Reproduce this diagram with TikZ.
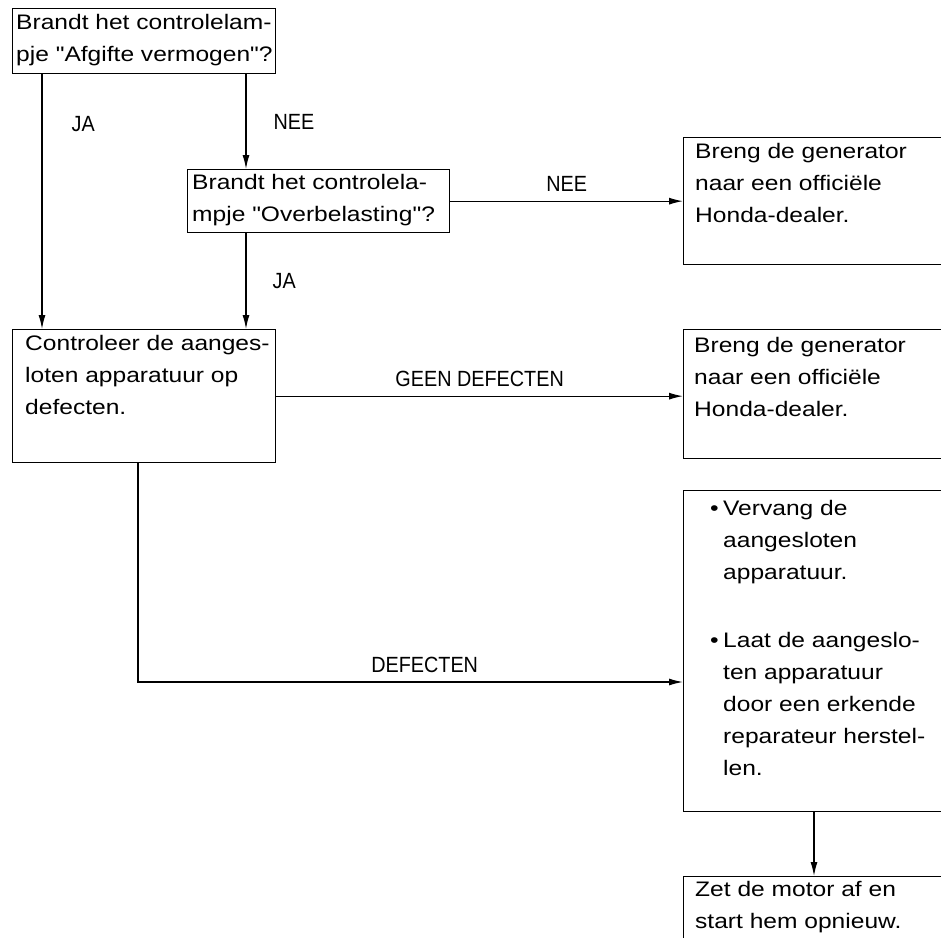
\documentclass[tikz,border=0pt]{standalone}
\usepackage{fontspec}
\setmainfont{Liberation Sans}
\newfontfamily\boxfont{Liberation Sans}[FakeStretch=1.17]
\newfontfamily\lblfont{Liberation Sans}[FakeStretch=0.9]
\usetikzlibrary{arrows.meta,positioning}

\tikzset{
  box/.style={draw, line width=1.3pt, anchor=north west, inner sep=0pt},
  boxtext/.style={anchor=north west, align=left, inner sep=0pt,
    font=\boxfont\fontsize{21}{32}\selectfont},
  arr/.style={line width=1.3pt, -{Latex[length=14pt,width=7pt]}},
  lbl/.style={font=\lblfont\fontsize{22}{26}\selectfont, inner sep=0pt},
}
\newcommand{\bul}{\makebox[13pt][l]{\textbullet}}
\newcommand{\ind}{\hspace*{13pt}}

\begin{document}
\begin{tikzpicture}[x=1pt,y=-1pt]
    \useasboundingbox (0,0) rectangle (941,937);
    \clip (0,0) rectangle (941,937);

    % questions
    \node[box, minimum width=263, minimum height=65,
      label={[boxtext, xshift=4, yshift=-5.7]north west:{Brandt het controlelam-\\pje "Afgifte vermogen"?}}]
      (lamp1) at (12,8) {};
    \node[box, minimum width=262, minimum height=63,
      label={[boxtext, xshift=5, yshift=-4.7]north west:{Brandt het controlela-\\mpje "Overbelasting"?}}]
      (lamp2) at (187,169) {};
    \node[box, minimum width=263, minimum height=133,
      label={[boxtext, xshift=13, yshift=-5.7]north west:{Controleer de aanges-\\loten apparatuur op\\defecten.}}]
      (check) at (12,329) {};

    % actions (right column)
    \node[box, minimum width=300, minimum height=127,
      label={[boxtext, xshift=12, yshift=-5.7]north west:{Breng de generator\\naar een officiële\\Honda-dealer.}}]
      (dealer1) at (683,137) {};
    \node[box, minimum width=300, minimum height=129,
      label={[boxtext, xshift=11, yshift=-7.7]north west:{Breng de generator\\naar een officiële\\Honda-dealer.}}]
      (dealer2) at (683,329) {};
    \node[box, minimum width=300, minimum height=321,
      label={[boxtext, xshift=27, yshift=-9.7]north west:{\bul Vervang de\\\ind aangesloten\\\ind apparatuur.\\[36pt]
        \bul Laat de aangeslo-\\\ind ten apparatuur\\\ind door een erkende\\\ind reparateur herstel-\\\ind len.}}]
      (repair) at (683,490) {};
    \node[box, minimum width=300, minimum height=100,
      label={[boxtext, xshift=12, yshift=-4.7]north west:{Zet de motor af en\\start hem opnieuw.}}]
      (restart) at (683,876) {};

    % connectors
    \coordinate (nee) at ([xshift=59]lamp2.north west);
    \coordinate (def) at ([yshift=-192]repair.north west);
    \draw[arr] ([xshift=30]lamp1.south west) -- node[lbl, pos=0.195, right=29pt] {JA} ([xshift=30]check.north west);
    \draw[arr] (nee |- lamp1.south) -- node[lbl, right=27pt] {NEE} (nee);
    \draw[arr] ([xshift=59]lamp2.south west) -- node[lbl, right=26pt] {JA} (nee |- check.north);
    \draw[arr] (lamp2.east) -- node[lbl, above=9pt] {NEE} (lamp2.east -| dealer1.west);
    \draw[arr] (check.east) -- node[lbl, above=9pt] {GEEN DEFECTEN} (check.east -| dealer2.west);
    \draw[arr] ([xshift=126]check.south west) |- node[lbl, pos=0.763, above=9pt] {DEFECTEN} (def);
    \draw[arr] ([xshift=131]repair.south west) -- ([xshift=131]restart.north west);
\end{tikzpicture}
\end{document}
